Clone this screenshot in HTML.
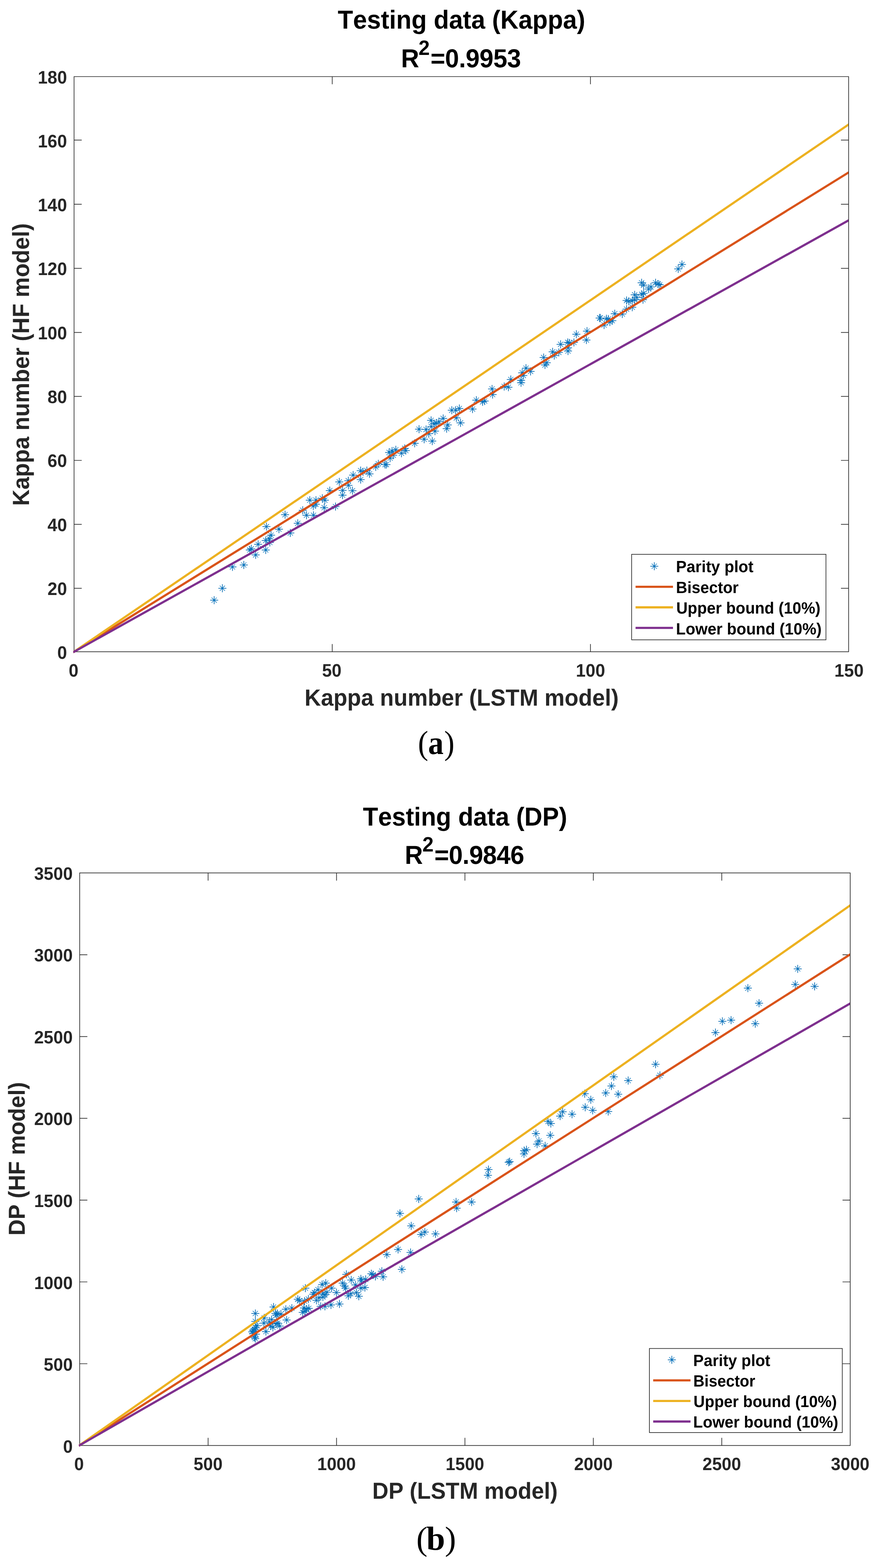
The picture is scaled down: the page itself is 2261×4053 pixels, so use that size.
<!DOCTYPE html>
<html lang="en">
<head>
<meta charset="utf-8">
<title>Parity plots: Testing data (Kappa) and Testing data (DP)</title>
<style>
html,body{margin:0;padding:0;background:#fff}
body{width:2261px;height:4053px;overflow:hidden}
svg{display:block}
text{font-family:"Liberation Sans",Arial,Helvetica,sans-serif;font-weight:bold;font-kerning:none;text-rendering:geometricPrecision}
.tk{fill:#262626}
.lb{fill:#262626}
.tt{fill:#000}
.lt{fill:#000}
.cp{font-family:"Liberation Serif","DejaVu Serif",serif;font-weight:normal;fill:#000}
.cp .cb{font-weight:bold}
.mk{fill:none;stroke:#0A6CB2}
.md{fill:none;stroke:#0072BD;stroke-opacity:.9}
.mc{fill:none;stroke:#0072BD;stroke-linecap:round}
.ax{fill:none;stroke:#262626;stroke-linejoin:miter}
.tc{fill:none;stroke:#262626;stroke-linecap:butt}
.dl line{stroke-linecap:square}
.lg{fill:#fff;stroke:#262626}
line{stroke-linecap:butt}
</style>
</head>
<body>
<svg width="2261" height="4053" viewBox="0 0 2261 4053">
<rect width="2261" height="4053" fill="#fff"/>
<g id="panel-a">
<path class="mk" stroke-width="1.75" d="M543 1551.3h20.8M553.4 1540.9v20.8M564.2 1520.5h20.8M574.6 1510.1v20.8M590.3 1465.4h20.8M600.7 1455v20.8M619.6 1460.4h20.8M630 1450v20.8M650.2 1434.4h20.8M660.6 1424v20.8M635.1 1421.6h20.8M645.5 1411.2v20.8M639.1 1418.5h20.8M649.5 1408.1v20.8M656.6 1406.9h20.8M667 1396.5v20.8M676.2 1421.5h20.8M686.6 1411.1v20.8M676.2 1397h20.8M686.6 1386.6v20.8M690 1383.4h20.8M700.4 1373v20.8M685.1 1392.5h20.8M695.5 1382.1v20.8M686.9 1402.2h20.8M697.3 1391.8v20.8M678.1 1361.2h20.8M688.5 1350.8v20.8M710.4 1367.8h20.8M720.8 1357.4v20.8M739.7 1377.7h20.8M750.1 1367.3v20.8M726.2 1330.4h20.8M736.6 1320v20.8M759 1352.7h20.8M769.4 1342.3v20.8M771.9 1319h20.8M782.3 1308.6v20.8M781.6 1331.8h20.8M792 1321.4v20.8M799.7 1331.8h20.8M810.1 1321.4v20.8M790.1 1292.8h20.8M800.5 1282.4v20.8M806.1 1292.8h20.8M816.5 1282.4v20.8M799.1 1308.1h20.8M809.5 1297.7v20.8M805.8 1303.3h20.8M816.2 1292.9v20.8M822.4 1288h20.8M832.8 1277.6v20.8M829 1292.8h20.8M839.4 1282.4v20.8M827.3 1312.3h20.8M837.7 1301.9v20.8M856.6 1309.4h20.8M867 1299v20.8M841.8 1268.1h20.8M852.2 1257.7v20.8M866.3 1245.7h20.8M876.7 1235.3v20.8M874.9 1267.7h20.8M885.3 1257.3v20.8M874.7 1279.9h20.8M885.1 1269.5v20.8M900.4 1268.4h20.8M910.8 1258v20.8M889.6 1242.6h20.8M900 1232.2v20.8M890 1254.5h20.8M900.4 1244.1v20.8M902.1 1228h20.8M912.5 1217.6v20.8M921.6 1216.5h20.8M932 1206.1v20.8M927.8 1219.7h20.8M938.2 1209.3v20.8M921.6 1239.6h20.8M932 1229.2v20.8M937.6 1216.3h20.8M948 1205.9v20.8M944.4 1224.8h20.8M954.8 1214.4v20.8M960.5 1206.8h20.8M970.9 1196.4v20.8M967.2 1198.8h20.8M977.6 1188.4v20.8M984.6 1200.8h20.8M995 1190.4v20.8M988.1 1200.8h20.8M998.5 1190.4v20.8M997.8 1184.1h20.8M1008.2 1173.7v20.8M1005.5 1176.5h20.8M1015.9 1166.1v20.8M995 1169.5h20.8M1005.4 1159.1v20.8M1002.7 1166h20.8M1013.1 1155.6v20.8M1012.4 1162.6h20.8M1022.8 1152.2v20.8M1027 1171.6h20.8M1037.4 1161.2v20.8M1038.2 1164.6h20.8M1048.6 1154.2v20.8M1035.4 1159.1h20.8M1045.8 1148.7v20.8M1061.1 1145.8h20.8M1071.5 1135.4v20.8M1085.6 1135.3h20.8M1096 1124.9v20.8M1106.5 1140.2h20.8M1116.9 1129.8v20.8M1072.4 1109.4h20.8M1082.8 1099v20.8M1090.6 1110.2h20.8M1101 1099.8v20.8M1097.6 1121h20.8M1108 1110.6v20.8M1113.6 1114.4h20.8M1124 1104v20.8M1103.5 1086.6h20.8M1113.9 1076.2v20.8M1104.1 1102.5h20.8M1114.5 1092.1v20.8M1111.1 1095.5h20.8M1121.5 1085.1v20.8M1116.7 1094.1h20.8M1127.1 1083.7v20.8M1123.6 1090h20.8M1134 1079.6v20.8M1134.8 1081.6h20.8M1145.2 1071.2v20.8M1146.6 1098.3h20.8M1157 1087.9v20.8M1143.8 1108h20.8M1154.2 1097.6v20.8M1157 1060.4h20.8M1167.4 1050v20.8M1166.8 1060.4h20.8M1177.2 1050v20.8M1176.5 1055.9h20.8M1186.9 1045.5v20.8M1168.9 1080.2h20.8M1179.3 1069.8v20.8M1179.6 1093h20.8M1190 1082.6v20.8M1210.6 1057.3h20.8M1221 1046.9v20.8M1220.4 1034.4h20.8M1230.8 1024v20.8M1236.7 1038.7h20.8M1247.1 1028.3v20.8M1241.9 1036.6h20.8M1252.3 1026.2v20.8M1261.1 1005.3h20.8M1271.5 994.9v20.8M1262.5 1019.9h20.8M1272.9 1009.5v20.8M1292.4 999h20.8M1302.8 988.6v20.8M1303.3 1000.8h20.8M1313.7 990.4v20.8M1309.5 980.9h20.8M1319.9 970.5v20.8M1336 983h20.8M1346.4 972.6v20.8M1336 989.3h20.8M1346.4 978.9v20.8M1339 963.5h20.8M1349.4 953.1v20.8M1341.8 970.5h20.8M1352.2 960.1v20.8M1348.8 951.7h20.8M1359.2 941.3v20.8M1360.6 960h20.8M1371 949.6v20.8M1394.4 924.1h20.8M1404.8 913.7v20.8M1397.9 943.4h20.8M1408.3 933v20.8M1402.5 937.5h20.8M1412.9 927.1v20.8M1417.6 909.4h20.8M1428 899v20.8M1421.8 919.2h20.8M1432.2 908.8v20.8M1433.6 910.8h20.8M1444 900.4v20.8M1438.2 890h20.8M1448.6 879.6v20.8M1457.3 907.3h20.8M1467.7 896.9v20.8M1457.3 899h20.8M1467.7 888.6v20.8M1456.6 885.1h20.8M1467 874.7v20.8M1460.8 886.5h20.8M1471.2 876.1v20.8M1472.6 885.1h20.8M1483 874.7v20.8M1478.9 863.9h20.8M1489.3 853.5v20.8M1506.4 855.9h20.8M1516.8 845.5v20.8M1504.9 878.8h20.8M1515.3 868.4v20.8M1539.1 822h20.8M1549.5 811.6v20.8M1540.6 822h20.8M1551 811.6v20.8M1550.5 840h20.8M1560.9 829.6v20.8M1556.5 824h20.8M1566.9 813.6v20.8M1561.4 824.7h20.8M1571.8 814.3v20.8M1565.5 832.4h20.8M1575.9 822v20.8M1571.8 828.9h20.8M1582.2 818.5v20.8M1578.1 810.8h20.8M1588.5 800.4v20.8M1597.5 811.5h20.8M1607.9 801.1v20.8M1608.7 799h20.8M1619.1 788.6v20.8M1623.3 794.1h20.8M1633.7 783.7v20.8M1608.7 776.7h20.8M1619.1 766.3v20.8M1614.2 778.8h20.8M1624.6 768.4v20.8M1623.3 777.4h20.8M1633.7 767v20.8M1629.6 774.6h20.8M1640 764.2v20.8M1629.6 762.1h20.8M1640 751.7v20.8M1635.1 769.1h20.8M1645.5 758.7v20.8M1651.1 774.6h20.8M1661.5 764.2v20.8M1648 760.8h20.8M1658.4 750.4v20.8M1652.9 758h20.8M1663.3 747.6v20.8M1665.7 747.2h20.8M1676.1 736.8v20.8M1671.7 741.6h20.8M1682.1 731.2v20.8M1647.6 730.9h20.8M1658 720.5v20.8M1652.6 737.2h20.8M1663 726.8v20.8M1683.7 730.9h20.8M1694.1 720.5v20.8M1690.4 734.4h20.8M1700.8 724v20.8M1694.3 736.1h20.8M1704.7 725.7v20.8M1742.1 695.2h20.8M1752.5 684.8v20.8M1751.8 683.7h20.8M1762.2 673.3v20.8"/>
<path class="md" stroke-width="1.49" d="M546.7 1544.6l13.3 13.3M546.7 1558l13.3 -13.3M567.9 1513.8l13.3 13.3M567.9 1527.2l13.3 -13.3M594 1458.7l13.3 13.3M594 1472.1l13.3 -13.3M623.3 1453.7l13.3 13.3M623.3 1467.1l13.3 -13.3M653.9 1427.7l13.3 13.3M653.9 1441.1l13.3 -13.3M638.8 1414.9l13.3 13.3M638.8 1428.3l13.3 -13.3M642.8 1411.8l13.3 13.3M642.8 1425.2l13.3 -13.3M660.3 1400.2l13.3 13.3M660.3 1413.6l13.3 -13.3M679.9 1414.8l13.3 13.3M679.9 1428.2l13.3 -13.3M679.9 1390.3l13.3 13.3M679.9 1403.7l13.3 -13.3M693.7 1376.7l13.3 13.3M693.7 1390.1l13.3 -13.3M688.8 1385.8l13.3 13.3M688.8 1399.2l13.3 -13.3M690.6 1395.5l13.3 13.3M690.6 1408.9l13.3 -13.3M681.8 1354.5l13.3 13.3M681.8 1367.9l13.3 -13.3M714.1 1361.1l13.3 13.3M714.1 1374.5l13.3 -13.3M743.4 1371l13.3 13.3M743.4 1384.4l13.3 -13.3M729.9 1323.7l13.3 13.3M729.9 1337.1l13.3 -13.3M762.7 1346l13.3 13.3M762.7 1359.4l13.3 -13.3M775.6 1312.3l13.3 13.3M775.6 1325.7l13.3 -13.3M785.3 1325.1l13.3 13.3M785.3 1338.5l13.3 -13.3M803.4 1325.1l13.3 13.3M803.4 1338.5l13.3 -13.3M793.8 1286.1l13.3 13.3M793.8 1299.5l13.3 -13.3M809.8 1286.1l13.3 13.3M809.8 1299.5l13.3 -13.3M802.8 1301.4l13.3 13.3M802.8 1314.8l13.3 -13.3M809.5 1296.6l13.3 13.3M809.5 1310l13.3 -13.3M826.1 1281.3l13.3 13.3M826.1 1294.7l13.3 -13.3M832.7 1286.1l13.3 13.3M832.7 1299.5l13.3 -13.3M831 1305.6l13.3 13.3M831 1319l13.3 -13.3M860.3 1302.7l13.3 13.3M860.3 1316.1l13.3 -13.3M845.5 1261.4l13.3 13.3M845.5 1274.8l13.3 -13.3M870 1239l13.3 13.3M870 1252.4l13.3 -13.3M878.6 1261l13.3 13.3M878.6 1274.4l13.3 -13.3M878.4 1273.2l13.3 13.3M878.4 1286.6l13.3 -13.3M904.1 1261.7l13.3 13.3M904.1 1275.1l13.3 -13.3M893.3 1235.9l13.3 13.3M893.3 1249.3l13.3 -13.3M893.7 1247.8l13.3 13.3M893.7 1261.2l13.3 -13.3M905.8 1221.3l13.3 13.3M905.8 1234.7l13.3 -13.3M925.3 1209.8l13.3 13.3M925.3 1223.2l13.3 -13.3M931.5 1213l13.3 13.3M931.5 1226.4l13.3 -13.3M925.3 1232.9l13.3 13.3M925.3 1246.3l13.3 -13.3M941.3 1209.6l13.3 13.3M941.3 1223l13.3 -13.3M948.1 1218.1l13.3 13.3M948.1 1231.5l13.3 -13.3M964.2 1200.1l13.3 13.3M964.2 1213.5l13.3 -13.3M970.9 1192.1l13.3 13.3M970.9 1205.5l13.3 -13.3M988.3 1194.1l13.3 13.3M988.3 1207.5l13.3 -13.3M991.8 1194.1l13.3 13.3M991.8 1207.5l13.3 -13.3M1001.5 1177.4l13.3 13.3M1001.5 1190.8l13.3 -13.3M1009.2 1169.8l13.3 13.3M1009.2 1183.2l13.3 -13.3M998.7 1162.8l13.3 13.3M998.7 1176.2l13.3 -13.3M1006.4 1159.3l13.3 13.3M1006.4 1172.7l13.3 -13.3M1016.1 1155.9l13.3 13.3M1016.1 1169.3l13.3 -13.3M1030.7 1164.9l13.3 13.3M1030.7 1178.3l13.3 -13.3M1041.9 1157.9l13.3 13.3M1041.9 1171.3l13.3 -13.3M1039.1 1152.4l13.3 13.3M1039.1 1165.8l13.3 -13.3M1064.8 1139.1l13.3 13.3M1064.8 1152.5l13.3 -13.3M1089.3 1128.6l13.3 13.3M1089.3 1142l13.3 -13.3M1110.2 1133.5l13.3 13.3M1110.2 1146.9l13.3 -13.3M1076.1 1102.7l13.3 13.3M1076.1 1116.1l13.3 -13.3M1094.3 1103.5l13.3 13.3M1094.3 1116.9l13.3 -13.3M1101.3 1114.3l13.3 13.3M1101.3 1127.7l13.3 -13.3M1117.3 1107.7l13.3 13.3M1117.3 1121.1l13.3 -13.3M1107.2 1079.9l13.3 13.3M1107.2 1093.3l13.3 -13.3M1107.8 1095.8l13.3 13.3M1107.8 1109.2l13.3 -13.3M1114.8 1088.8l13.3 13.3M1114.8 1102.2l13.3 -13.3M1120.4 1087.4l13.3 13.3M1120.4 1100.8l13.3 -13.3M1127.3 1083.3l13.3 13.3M1127.3 1096.7l13.3 -13.3M1138.5 1074.9l13.3 13.3M1138.5 1088.3l13.3 -13.3M1150.3 1091.6l13.3 13.3M1150.3 1105l13.3 -13.3M1147.5 1101.3l13.3 13.3M1147.5 1114.7l13.3 -13.3M1160.7 1053.7l13.3 13.3M1160.7 1067.1l13.3 -13.3M1170.5 1053.7l13.3 13.3M1170.5 1067.1l13.3 -13.3M1180.2 1049.2l13.3 13.3M1180.2 1062.6l13.3 -13.3M1172.6 1073.5l13.3 13.3M1172.6 1086.9l13.3 -13.3M1183.3 1086.3l13.3 13.3M1183.3 1099.7l13.3 -13.3M1214.3 1050.6l13.3 13.3M1214.3 1064l13.3 -13.3M1224.1 1027.7l13.3 13.3M1224.1 1041.1l13.3 -13.3M1240.4 1032l13.3 13.3M1240.4 1045.4l13.3 -13.3M1245.6 1029.9l13.3 13.3M1245.6 1043.3l13.3 -13.3M1264.8 998.6l13.3 13.3M1264.8 1012l13.3 -13.3M1266.2 1013.2l13.3 13.3M1266.2 1026.6l13.3 -13.3M1296.1 992.3l13.3 13.3M1296.1 1005.7l13.3 -13.3M1307 994.1l13.3 13.3M1307 1007.5l13.3 -13.3M1313.2 974.2l13.3 13.3M1313.2 987.6l13.3 -13.3M1339.7 976.3l13.3 13.3M1339.7 989.7l13.3 -13.3M1339.7 982.6l13.3 13.3M1339.7 996l13.3 -13.3M1342.7 956.8l13.3 13.3M1342.7 970.2l13.3 -13.3M1345.5 963.8l13.3 13.3M1345.5 977.2l13.3 -13.3M1352.5 945l13.3 13.3M1352.5 958.4l13.3 -13.3M1364.3 953.3l13.3 13.3M1364.3 966.7l13.3 -13.3M1398.1 917.4l13.3 13.3M1398.1 930.8l13.3 -13.3M1401.6 936.7l13.3 13.3M1401.6 950.1l13.3 -13.3M1406.2 930.8l13.3 13.3M1406.2 944.2l13.3 -13.3M1421.3 902.7l13.3 13.3M1421.3 916.1l13.3 -13.3M1425.5 912.5l13.3 13.3M1425.5 925.9l13.3 -13.3M1437.3 904.1l13.3 13.3M1437.3 917.5l13.3 -13.3M1441.9 883.3l13.3 13.3M1441.9 896.7l13.3 -13.3M1461 900.6l13.3 13.3M1461 914l13.3 -13.3M1461 892.3l13.3 13.3M1461 905.7l13.3 -13.3M1460.3 878.4l13.3 13.3M1460.3 891.8l13.3 -13.3M1464.5 879.8l13.3 13.3M1464.5 893.2l13.3 -13.3M1476.3 878.4l13.3 13.3M1476.3 891.8l13.3 -13.3M1482.6 857.2l13.3 13.3M1482.6 870.6l13.3 -13.3M1510.1 849.2l13.3 13.3M1510.1 862.6l13.3 -13.3M1508.6 872.1l13.3 13.3M1508.6 885.5l13.3 -13.3M1542.8 815.3l13.3 13.3M1542.8 828.7l13.3 -13.3M1544.3 815.3l13.3 13.3M1544.3 828.7l13.3 -13.3M1554.2 833.3l13.3 13.3M1554.2 846.7l13.3 -13.3M1560.2 817.3l13.3 13.3M1560.2 830.7l13.3 -13.3M1565.1 818l13.3 13.3M1565.1 831.4l13.3 -13.3M1569.2 825.7l13.3 13.3M1569.2 839.1l13.3 -13.3M1575.5 822.2l13.3 13.3M1575.5 835.6l13.3 -13.3M1581.8 804.1l13.3 13.3M1581.8 817.5l13.3 -13.3M1601.2 804.8l13.3 13.3M1601.2 818.2l13.3 -13.3M1612.4 792.3l13.3 13.3M1612.4 805.7l13.3 -13.3M1627 787.4l13.3 13.3M1627 800.8l13.3 -13.3M1612.4 770l13.3 13.3M1612.4 783.4l13.3 -13.3M1617.9 772.1l13.3 13.3M1617.9 785.5l13.3 -13.3M1627 770.7l13.3 13.3M1627 784.1l13.3 -13.3M1633.3 767.9l13.3 13.3M1633.3 781.3l13.3 -13.3M1633.3 755.4l13.3 13.3M1633.3 768.8l13.3 -13.3M1638.8 762.4l13.3 13.3M1638.8 775.8l13.3 -13.3M1654.8 767.9l13.3 13.3M1654.8 781.3l13.3 -13.3M1651.7 754.1l13.3 13.3M1651.7 767.5l13.3 -13.3M1656.6 751.3l13.3 13.3M1656.6 764.7l13.3 -13.3M1669.4 740.5l13.3 13.3M1669.4 753.9l13.3 -13.3M1675.4 734.9l13.3 13.3M1675.4 748.3l13.3 -13.3M1651.3 724.2l13.3 13.3M1651.3 737.6l13.3 -13.3M1656.3 730.5l13.3 13.3M1656.3 743.9l13.3 -13.3M1687.4 724.2l13.3 13.3M1687.4 737.6l13.3 -13.3M1694.1 727.7l13.3 13.3M1694.1 741.1l13.3 -13.3M1698 729.4l13.3 13.3M1698 742.8l13.3 -13.3M1745.8 688.5l13.3 13.3M1745.8 701.9l13.3 -13.3M1755.5 677l13.3 13.3M1755.5 690.4l13.3 -13.3"/>
<path class="mc" stroke-width="4.9" d="M553.4 1551.3h0M574.6 1520.5h0M600.7 1465.4h0M630 1460.4h0M660.6 1434.4h0M645.5 1421.6h0M649.5 1418.5h0M667 1406.9h0M686.6 1421.5h0M686.6 1397h0M700.4 1383.4h0M695.5 1392.5h0M697.3 1402.2h0M688.5 1361.2h0M720.8 1367.8h0M750.1 1377.7h0M736.6 1330.4h0M769.4 1352.7h0M782.3 1319h0M792 1331.8h0M810.1 1331.8h0M800.5 1292.8h0M816.5 1292.8h0M809.5 1308.1h0M816.2 1303.3h0M832.8 1288h0M839.4 1292.8h0M837.7 1312.3h0M867 1309.4h0M852.2 1268.1h0M876.7 1245.7h0M885.3 1267.7h0M885.1 1279.9h0M910.8 1268.4h0M900 1242.6h0M900.4 1254.5h0M912.5 1228h0M932 1216.5h0M938.2 1219.7h0M932 1239.6h0M948 1216.3h0M954.8 1224.8h0M970.9 1206.8h0M977.6 1198.8h0M995 1200.8h0M998.5 1200.8h0M1008.2 1184.1h0M1015.9 1176.5h0M1005.4 1169.5h0M1013.1 1166h0M1022.8 1162.6h0M1037.4 1171.6h0M1048.6 1164.6h0M1045.8 1159.1h0M1071.5 1145.8h0M1096 1135.3h0M1116.9 1140.2h0M1082.8 1109.4h0M1101 1110.2h0M1108 1121h0M1124 1114.4h0M1113.9 1086.6h0M1114.5 1102.5h0M1121.5 1095.5h0M1127.1 1094.1h0M1134 1090h0M1145.2 1081.6h0M1157 1098.3h0M1154.2 1108h0M1167.4 1060.4h0M1177.2 1060.4h0M1186.9 1055.9h0M1179.3 1080.2h0M1190 1093h0M1221 1057.3h0M1230.8 1034.4h0M1247.1 1038.7h0M1252.3 1036.6h0M1271.5 1005.3h0M1272.9 1019.9h0M1302.8 999h0M1313.7 1000.8h0M1319.9 980.9h0M1346.4 983h0M1346.4 989.3h0M1349.4 963.5h0M1352.2 970.5h0M1359.2 951.7h0M1371 960h0M1404.8 924.1h0M1408.3 943.4h0M1412.9 937.5h0M1428 909.4h0M1432.2 919.2h0M1444 910.8h0M1448.6 890h0M1467.7 907.3h0M1467.7 899h0M1467 885.1h0M1471.2 886.5h0M1483 885.1h0M1489.3 863.9h0M1516.8 855.9h0M1515.3 878.8h0M1549.5 822h0M1551 822h0M1560.9 840h0M1566.9 824h0M1571.8 824.7h0M1575.9 832.4h0M1582.2 828.9h0M1588.5 810.8h0M1607.9 811.5h0M1619.1 799h0M1633.7 794.1h0M1619.1 776.7h0M1624.6 778.8h0M1633.7 777.4h0M1640 774.6h0M1640 762.1h0M1645.5 769.1h0M1661.5 774.6h0M1658.4 760.8h0M1663.3 758h0M1676.1 747.2h0M1682.1 741.6h0M1658 730.9h0M1663 737.2h0M1694.1 730.9h0M1700.8 734.4h0M1704.7 736.1h0M1752.5 695.2h0M1762.2 683.7h0"/>
<path class="ax" stroke-width="1.7" d="M191.4 198H2192.8V1684.6H191.4Z"/>
<path class="tc" stroke-width="1.7" d="M858.5 1684.6v-19.8M858.5 198v19.8M1525.7 1684.6v-19.8M1525.7 198v19.8M191.4 1520.6h19.8M2192.8 1520.6h-19.8M191.4 1355.3h19.8M2192.8 1355.3h-19.8M191.4 1190h19.8M2192.8 1190h-19.8M191.4 1024.7h19.8M2192.8 1024.7h-19.8M191.4 859.4h19.8M2192.8 859.4h-19.8M191.4 693.6h19.8M2192.8 693.6h-19.8M191.4 527.9h19.8M2192.8 527.9h-19.8M191.4 362.2h19.8M2192.8 362.2h-19.8"/>
<clipPath id="clip-panel-a"><rect x="189.2" y="198.8" width="2002.8" height="1491.8"/></clipPath>
<g class="dl" clip-path="url(#clip-panel-a)" stroke-width="5.6">
<line x1="191.4" y1="1684.6" x2="2192.8" y2="445.8" stroke="#D95319"/>
<line x1="191.4" y1="1684.6" x2="2192.8" y2="321.9" stroke="#EDB120"/>
<line x1="191.4" y1="1684.6" x2="2192.8" y2="569.6" stroke="#7E2F8E"/>
</g>
<text class="tk" font-size="46.89" transform="translate(177.41 1749) scale(0.966 1)">0</text>
<text class="tk" font-size="46.89" transform="translate(832.14 1749) scale(0.966 1)">50</text>
<text class="tk" font-size="46.89" transform="translate(1488.08 1749) scale(0.966 1)">100</text>
<text class="tk" font-size="46.89" transform="translate(2156.12 1749) scale(0.966 1)">150</text>
<text class="tk" font-size="46.89" transform="translate(148.05 1703.4) scale(0.966 1)">0</text>
<text class="tk" font-size="46.89" transform="translate(122.86 1538.08) scale(0.966 1)">20</text>
<text class="tk" font-size="46.89" transform="translate(122.86 1372.76) scale(0.966 1)">40</text>
<text class="tk" font-size="46.89" transform="translate(122.86 1207.43) scale(0.966 1)">60</text>
<text class="tk" font-size="46.89" transform="translate(122.86 1042.11) scale(0.966 1)">80</text>
<text class="tk" font-size="46.89" transform="translate(97.67 876.79) scale(0.966 1)">100</text>
<text class="tk" font-size="46.89" transform="translate(97.67 711.47) scale(0.966 1)">120</text>
<text class="tk" font-size="46.89" transform="translate(97.67 546.14) scale(0.966 1)">140</text>
<text class="tk" font-size="46.89" transform="translate(97.67 380.82) scale(0.966 1)">160</text>
<text class="tk" font-size="46.89" transform="translate(97.67 215.5) scale(0.966 1)">180</text>
<text class="lb" font-size="60.5" transform="translate(786.95 1823.6) scale(0.966 1)">Kappa number (LSTM model)</text>
<text class="lb" font-size="60.5" transform="translate(74.7 1307.45) rotate(-90) scale(0.9658 1)">Kappa number (HF model)</text>
<text class="tt" font-size="67.27" transform="translate(872.7 74) scale(0.9617 1)">Testing data (Kappa)</text>
<text class="tt" font-size="67.27" transform="translate(0 174.2) scale(0.966 1)"><tspan x="1072.61">R</tspan><tspan x="1119.65" dy="-32.4" font-size="53.82">2</tspan><tspan x="1151.73" dy="32.4" letter-spacing="-0.478">=0.9953</tspan></text>
<rect class="lg" x="1632.2" y="1432.8" width="502.1" height="221" stroke-width="1.7"/>
<path class="mk" stroke-width="1.75" d="M1680.3 1463.6h20.8M1690.7 1453.2v20.8"/>
<path class="md" stroke-width="1.49" d="M1684 1456.9l13.3 13.3M1684 1470.3l13.3 -13.3"/>
<path class="mc" stroke-width="4.9" d="M1690.7 1463.6h0"/>
<line x1="1642.3" y1="1516.8" x2="1739" y2="1516.8" stroke="#D95319" stroke-width="5.6"/>
<line x1="1642.3" y1="1569.9" x2="1739" y2="1569.9" stroke="#EDB120" stroke-width="5.6"/>
<line x1="1642.3" y1="1623" x2="1739" y2="1623" stroke="#7E2F8E" stroke-width="5.6"/>
<text class="lt" font-size="42.23" transform="translate(1746.84 1479.2) scale(0.9689 1)">Parity plot</text>
<text class="lt" font-size="42.23" transform="translate(1746.87 1532.8) scale(0.9569 1)">Bisector</text>
<text class="lt" font-size="42.23" transform="translate(1747.49 1586.4) scale(0.9628 1)">Upper bound (10%)</text>
<text class="lt" font-size="42.23" transform="translate(1746.85 1640) scale(0.9663 1)">Lower bound (10%)</text>
<text class="cp" font-size="86.5" transform="translate(0 1948.6) scale(0.9249 1)"><tspan x="1167.64">(</tspan><tspan class="cb" x="1196.08">a</tspan><tspan x="1240.9">)</tspan></text>
</g>
<g id="panel-b">
<path class="mk" stroke-width="1.75" d="M649.4 3395.1h20.8M659.8 3384.7v20.8M649.4 3415.5h20.8M659.8 3405.1v20.8M653.8 3426.8h20.8M664.2 3416.4v20.8M650.5 3431.8h20.8M660.9 3421.4v20.8M647.2 3436h20.8M657.6 3425.6v20.8M643.8 3439.3h20.8M654.2 3428.9v20.8M641.3 3442.7h20.8M651.7 3432.3v20.8M643.4 3446.8h20.8M653.8 3436.4v20.8M647.2 3456.8h20.8M657.6 3446.4v20.8M649.2 3460.2h20.8M659.6 3449.8v20.8M650.9 3448.5h20.8M661.3 3438.1v20.8M671.4 3420.1h20.8M681.8 3409.7v20.8M672.2 3406.7h20.8M682.6 3396.3v20.8M676.8 3441.8h20.8M687.2 3431.4v20.8M694.8 3431h20.8M705.2 3420.6v20.8M688.9 3427.6h20.8M699.3 3417.2v20.8M703.1 3421.8h20.8M713.5 3411.4v20.8M707.3 3420.1h20.8M717.7 3409.7v20.8M712.3 3427.6h20.8M722.7 3417.2v20.8M685.6 3416.8h20.8M696 3406.4v20.8M691.4 3410.9h20.8M701.8 3400.5v20.8M696.4 3378.4h20.8M706.8 3368v20.8M701.4 3395.1h20.8M711.8 3384.7v20.8M703.9 3399.2h20.8M714.3 3388.8v20.8M706.4 3395.1h20.8M716.8 3384.7v20.8M715.6 3396.7h20.8M726 3386.3v20.8M728.2 3384.2h20.8M738.6 3373.8v20.8M730.2 3411.8h20.8M740.6 3401.4v20.8M743.8 3381.3h20.8M754.2 3370.9v20.8M759.1 3358.4h20.8M769.5 3348v20.8M763.4 3362h20.8M773.8 3351.6v20.8M778.6 3329.7h20.8M789 3319.3v20.8M776.5 3363.1h20.8M786.9 3352.7v20.8M786.4 3357.8h20.8M796.8 3347.4v20.8M774.9 3380.8h20.8M785.3 3370.4v20.8M771.8 3392.3h20.8M782.2 3381.9v20.8M782.2 3384h20.8M792.6 3373.6v20.8M787.5 3381.9h20.8M797.9 3371.5v20.8M778.1 3389.2h20.8M788.5 3378.8v20.8M802.1 3341.1h20.8M812.5 3330.7v20.8M798.9 3345.3h20.8M809.3 3334.9v20.8M811.5 3333.8h20.8M821.9 3323.4v20.8M821.9 3320.3h20.8M832.3 3309.9v20.8M831.3 3316.6h20.8M841.7 3306.2v20.8M807.3 3361h20.8M817.7 3350.6v20.8M813.6 3354.7h20.8M824 3344.3v20.8M824 3352.6h20.8M834.4 3342.2v20.8M829.2 3346.9h20.8M839.6 3336.5v20.8M834.4 3340.1h20.8M844.8 3329.7v20.8M824 3344.3h20.8M834.4 3333.9v20.8M846.4 3329.7h20.8M856.8 3319.3v20.8M859 3341.1h20.8M869.4 3330.7v20.8M818.2 3376.6h20.8M828.6 3366.2v20.8M829.2 3376.6h20.8M839.6 3366.2v20.8M844.9 3373h20.8M855.3 3362.6v20.8M866.8 3370.5h20.8M877.2 3360.1v20.8M874.9 3316.6h20.8M885.3 3306.2v20.8M884.5 3293.9h20.8M894.9 3283.5v20.8M882.4 3329.6h20.8M892.8 3319.2v20.8M880.3 3324.4h20.8M890.7 3314v20.8M897.2 3308.5h20.8M907.6 3298.1v20.8M889.7 3349.4h20.8M900.1 3339v20.8M896 3344.2h20.8M906.4 3333.8v20.8M908 3321.3h20.8M918.4 3310.9v20.8M910.6 3341.1h20.8M921 3330.7v20.8M916.8 3350.5h20.8M927.2 3340.1v20.8M922.1 3305.6h20.8M932.5 3295.2v20.8M923.1 3310.8h20.8M933.5 3300.4v20.8M922.1 3329.6h20.8M932.5 3319.2v20.8M932.5 3328h20.8M942.9 3317.6v20.8M934.6 3307h20.8M945 3296.6v20.8M949.2 3292.3h20.8M959.6 3281.9v20.8M953.4 3295.2h20.8M963.8 3284.8v20.8M959.6 3299.3h20.8M970 3288.9v20.8M976.3 3285.8h20.8M986.7 3275.4v20.8M979.5 3300.4h20.8M989.9 3290v20.8M989.1 3242.8h20.8M999.5 3232.4v20.8M1018.2 3229.5h20.8M1028.6 3219.1v20.8M1050.5 3237.4h20.8M1060.9 3227v20.8M1028 3281h20.8M1038.4 3270.6v20.8M1023.1 3136.3h20.8M1033.5 3125.9v20.8M1052.2 3168.6h20.8M1062.6 3158.2v20.8M1077.6 3190.8h20.8M1088 3180.4v20.8M1087.4 3184.6h20.8M1097.8 3174.2v20.8M1114.9 3189.4h20.8M1125.3 3179v20.8M1071.6 3099h20.8M1082 3088.6v20.8M1168.1 3107h20.8M1178.5 3096.6v20.8M1169.6 3122.8h20.8M1180 3112.4v20.8M1208.3 3107h20.8M1218.7 3096.6v20.8M1251.8 3023.2h20.8M1262.2 3012.8v20.8M1250.4 3037.8h20.8M1260.8 3027.4v20.8M1304 3004.4h20.8M1314.4 2994v20.8M1306.6 3002.6h20.8M1317 2992.2v20.8M1343.6 2982.7h20.8M1354 2972.3v20.8M1344 2974h20.8M1354.4 2963.6v20.8M1350 2971.9h20.8M1360.4 2961.5v20.8M1374.4 2930h20.8M1384.8 2919.6v20.8M1377.4 2957.4h20.8M1387.8 2947v20.8M1382.2 2949.3h20.8M1392.6 2938.9v20.8M1398.2 2961.8h20.8M1408.6 2951.4v20.8M1411.5 2934.5h20.8M1421.9 2924.1v20.8M1405.7 2898.6h20.8M1416.1 2888.2v20.8M1413 2904h20.8M1423.4 2893.6v20.8M1437 2884.9h20.8M1447.4 2874.5v20.8M1443.6 2873.6h20.8M1454 2863.2v20.8M1467.8 2880h20.8M1478.2 2869.6v20.8M1500.5 2827h20.8M1510.9 2816.6v20.8M1516.2 2842.6h20.8M1526.6 2832.2v20.8M1501.8 2862.1h20.8M1512.2 2851.7v20.8M1521.1 2870.1h20.8M1531.5 2859.7v20.8M1554.8 2825.2h20.8M1565.2 2814.8v20.8M1561.2 2873.1h20.8M1571.6 2862.7v20.8M1569.6 2807.2h20.8M1580 2796.8v20.8M1575.7 2783.4h20.8M1586.1 2773v20.8M1587 2828.3h20.8M1597.4 2817.9v20.8M1612.8 2793h20.8M1623.2 2782.6v20.8M1683.6 2750.9h20.8M1694 2740.5v20.8M1694.9 2779.6h20.8M1705.3 2769.2v20.8M1838.3 2669h20.8M1848.7 2658.6v20.8M1856.2 2639.8h20.8M1866.6 2629.4v20.8M1878.7 2636.8h20.8M1889.1 2626.4v20.8M1922.1 2554.2h20.8M1932.5 2543.8v20.8M1951 2593.2h20.8M1961.4 2582.8v20.8M1941.2 2646h20.8M1951.6 2635.6v20.8M2050.9 2504.3h20.8M2061.3 2493.9v20.8M2044.5 2544.5h20.8M2054.9 2534.1v20.8M2094.6 2549.6h20.8M2105 2539.2v20.8"/>
<path class="md" stroke-width="1.49" d="M653.1 3388.4l13.3 13.3M653.1 3401.8l13.3 -13.3M653.1 3408.8l13.3 13.3M653.1 3422.2l13.3 -13.3M657.5 3420.1l13.3 13.3M657.5 3433.5l13.3 -13.3M654.2 3425.1l13.3 13.3M654.2 3438.5l13.3 -13.3M650.9 3429.3l13.3 13.3M650.9 3442.7l13.3 -13.3M647.5 3432.6l13.3 13.3M647.5 3446l13.3 -13.3M645 3436l13.3 13.3M645 3449.4l13.3 -13.3M647.1 3440.1l13.3 13.3M647.1 3453.5l13.3 -13.3M650.9 3450.1l13.3 13.3M650.9 3463.5l13.3 -13.3M652.9 3453.5l13.3 13.3M652.9 3466.9l13.3 -13.3M654.6 3441.8l13.3 13.3M654.6 3455.2l13.3 -13.3M675.1 3413.4l13.3 13.3M675.1 3426.8l13.3 -13.3M675.9 3400l13.3 13.3M675.9 3413.4l13.3 -13.3M680.5 3435.1l13.3 13.3M680.5 3448.5l13.3 -13.3M698.5 3424.3l13.3 13.3M698.5 3437.7l13.3 -13.3M692.6 3420.9l13.3 13.3M692.6 3434.3l13.3 -13.3M706.8 3415.1l13.3 13.3M706.8 3428.5l13.3 -13.3M711 3413.4l13.3 13.3M711 3426.8l13.3 -13.3M716 3420.9l13.3 13.3M716 3434.3l13.3 -13.3M689.3 3410.1l13.3 13.3M689.3 3423.5l13.3 -13.3M695.1 3404.2l13.3 13.3M695.1 3417.6l13.3 -13.3M700.1 3371.7l13.3 13.3M700.1 3385.1l13.3 -13.3M705.1 3388.4l13.3 13.3M705.1 3401.8l13.3 -13.3M707.6 3392.5l13.3 13.3M707.6 3405.9l13.3 -13.3M710.1 3388.4l13.3 13.3M710.1 3401.8l13.3 -13.3M719.3 3390l13.3 13.3M719.3 3403.4l13.3 -13.3M731.9 3377.5l13.3 13.3M731.9 3390.9l13.3 -13.3M733.9 3405.1l13.3 13.3M733.9 3418.5l13.3 -13.3M747.5 3374.6l13.3 13.3M747.5 3388l13.3 -13.3M762.8 3351.7l13.3 13.3M762.8 3365.1l13.3 -13.3M767.1 3355.3l13.3 13.3M767.1 3368.7l13.3 -13.3M782.3 3323l13.3 13.3M782.3 3336.4l13.3 -13.3M780.2 3356.4l13.3 13.3M780.2 3369.8l13.3 -13.3M790.1 3351.1l13.3 13.3M790.1 3364.5l13.3 -13.3M778.6 3374.1l13.3 13.3M778.6 3387.5l13.3 -13.3M775.5 3385.6l13.3 13.3M775.5 3399l13.3 -13.3M785.9 3377.3l13.3 13.3M785.9 3390.7l13.3 -13.3M791.2 3375.2l13.3 13.3M791.2 3388.6l13.3 -13.3M781.8 3382.5l13.3 13.3M781.8 3395.9l13.3 -13.3M805.8 3334.4l13.3 13.3M805.8 3347.8l13.3 -13.3M802.6 3338.6l13.3 13.3M802.6 3352l13.3 -13.3M815.2 3327.1l13.3 13.3M815.2 3340.5l13.3 -13.3M825.6 3313.6l13.3 13.3M825.6 3327l13.3 -13.3M835 3309.9l13.3 13.3M835 3323.3l13.3 -13.3M811 3354.3l13.3 13.3M811 3367.7l13.3 -13.3M817.3 3348l13.3 13.3M817.3 3361.4l13.3 -13.3M827.7 3345.9l13.3 13.3M827.7 3359.3l13.3 -13.3M832.9 3340.2l13.3 13.3M832.9 3353.6l13.3 -13.3M838.1 3333.4l13.3 13.3M838.1 3346.8l13.3 -13.3M827.7 3337.6l13.3 13.3M827.7 3351l13.3 -13.3M850.1 3323l13.3 13.3M850.1 3336.4l13.3 -13.3M862.7 3334.4l13.3 13.3M862.7 3347.8l13.3 -13.3M821.9 3369.9l13.3 13.3M821.9 3383.3l13.3 -13.3M832.9 3369.9l13.3 13.3M832.9 3383.3l13.3 -13.3M848.6 3366.3l13.3 13.3M848.6 3379.7l13.3 -13.3M870.5 3363.8l13.3 13.3M870.5 3377.2l13.3 -13.3M878.6 3309.9l13.3 13.3M878.6 3323.3l13.3 -13.3M888.2 3287.2l13.3 13.3M888.2 3300.6l13.3 -13.3M886.1 3322.9l13.3 13.3M886.1 3336.3l13.3 -13.3M884 3317.7l13.3 13.3M884 3331.1l13.3 -13.3M900.9 3301.8l13.3 13.3M900.9 3315.2l13.3 -13.3M893.4 3342.7l13.3 13.3M893.4 3356.1l13.3 -13.3M899.7 3337.5l13.3 13.3M899.7 3350.9l13.3 -13.3M911.7 3314.6l13.3 13.3M911.7 3328l13.3 -13.3M914.3 3334.4l13.3 13.3M914.3 3347.8l13.3 -13.3M920.5 3343.8l13.3 13.3M920.5 3357.2l13.3 -13.3M925.8 3298.9l13.3 13.3M925.8 3312.3l13.3 -13.3M926.8 3304.1l13.3 13.3M926.8 3317.5l13.3 -13.3M925.8 3322.9l13.3 13.3M925.8 3336.3l13.3 -13.3M936.2 3321.3l13.3 13.3M936.2 3334.7l13.3 -13.3M938.3 3300.3l13.3 13.3M938.3 3313.7l13.3 -13.3M952.9 3285.6l13.3 13.3M952.9 3299l13.3 -13.3M957.1 3288.5l13.3 13.3M957.1 3301.9l13.3 -13.3M963.3 3292.6l13.3 13.3M963.3 3306l13.3 -13.3M980 3279.1l13.3 13.3M980 3292.5l13.3 -13.3M983.2 3293.7l13.3 13.3M983.2 3307.1l13.3 -13.3M992.8 3236.1l13.3 13.3M992.8 3249.5l13.3 -13.3M1021.9 3222.8l13.3 13.3M1021.9 3236.2l13.3 -13.3M1054.2 3230.7l13.3 13.3M1054.2 3244.1l13.3 -13.3M1031.7 3274.3l13.3 13.3M1031.7 3287.7l13.3 -13.3M1026.8 3129.6l13.3 13.3M1026.8 3143l13.3 -13.3M1055.9 3161.9l13.3 13.3M1055.9 3175.3l13.3 -13.3M1081.3 3184.1l13.3 13.3M1081.3 3197.5l13.3 -13.3M1091.1 3177.9l13.3 13.3M1091.1 3191.3l13.3 -13.3M1118.6 3182.7l13.3 13.3M1118.6 3196.1l13.3 -13.3M1075.3 3092.3l13.3 13.3M1075.3 3105.7l13.3 -13.3M1171.8 3100.3l13.3 13.3M1171.8 3113.7l13.3 -13.3M1173.3 3116.1l13.3 13.3M1173.3 3129.5l13.3 -13.3M1212 3100.3l13.3 13.3M1212 3113.7l13.3 -13.3M1255.5 3016.5l13.3 13.3M1255.5 3029.9l13.3 -13.3M1254.1 3031.1l13.3 13.3M1254.1 3044.5l13.3 -13.3M1307.7 2997.7l13.3 13.3M1307.7 3011.1l13.3 -13.3M1310.3 2995.9l13.3 13.3M1310.3 3009.3l13.3 -13.3M1347.3 2976l13.3 13.3M1347.3 2989.4l13.3 -13.3M1347.7 2967.3l13.3 13.3M1347.7 2980.7l13.3 -13.3M1353.7 2965.2l13.3 13.3M1353.7 2978.6l13.3 -13.3M1378.1 2923.3l13.3 13.3M1378.1 2936.7l13.3 -13.3M1381.1 2950.7l13.3 13.3M1381.1 2964.1l13.3 -13.3M1385.9 2942.6l13.3 13.3M1385.9 2956l13.3 -13.3M1401.9 2955.1l13.3 13.3M1401.9 2968.5l13.3 -13.3M1415.2 2927.8l13.3 13.3M1415.2 2941.2l13.3 -13.3M1409.4 2891.9l13.3 13.3M1409.4 2905.3l13.3 -13.3M1416.7 2897.3l13.3 13.3M1416.7 2910.7l13.3 -13.3M1440.7 2878.2l13.3 13.3M1440.7 2891.6l13.3 -13.3M1447.3 2866.9l13.3 13.3M1447.3 2880.3l13.3 -13.3M1471.5 2873.3l13.3 13.3M1471.5 2886.7l13.3 -13.3M1504.2 2820.3l13.3 13.3M1504.2 2833.7l13.3 -13.3M1519.9 2835.9l13.3 13.3M1519.9 2849.3l13.3 -13.3M1505.5 2855.4l13.3 13.3M1505.5 2868.8l13.3 -13.3M1524.8 2863.4l13.3 13.3M1524.8 2876.8l13.3 -13.3M1558.5 2818.5l13.3 13.3M1558.5 2831.9l13.3 -13.3M1564.9 2866.4l13.3 13.3M1564.9 2879.8l13.3 -13.3M1573.3 2800.5l13.3 13.3M1573.3 2813.9l13.3 -13.3M1579.4 2776.7l13.3 13.3M1579.4 2790.1l13.3 -13.3M1590.7 2821.6l13.3 13.3M1590.7 2835l13.3 -13.3M1616.5 2786.3l13.3 13.3M1616.5 2799.7l13.3 -13.3M1687.3 2744.2l13.3 13.3M1687.3 2757.6l13.3 -13.3M1698.6 2772.9l13.3 13.3M1698.6 2786.3l13.3 -13.3M1842 2662.3l13.3 13.3M1842 2675.7l13.3 -13.3M1859.9 2633.1l13.3 13.3M1859.9 2646.5l13.3 -13.3M1882.4 2630.1l13.3 13.3M1882.4 2643.5l13.3 -13.3M1925.8 2547.5l13.3 13.3M1925.8 2560.9l13.3 -13.3M1954.7 2586.5l13.3 13.3M1954.7 2599.9l13.3 -13.3M1944.9 2639.3l13.3 13.3M1944.9 2652.7l13.3 -13.3M2054.6 2497.6l13.3 13.3M2054.6 2511l13.3 -13.3M2048.2 2537.8l13.3 13.3M2048.2 2551.2l13.3 -13.3M2098.3 2542.9l13.3 13.3M2098.3 2556.3l13.3 -13.3"/>
<path class="mc" stroke-width="4.9" d="M659.8 3395.1h0M659.8 3415.5h0M664.2 3426.8h0M660.9 3431.8h0M657.6 3436h0M654.2 3439.3h0M651.7 3442.7h0M653.8 3446.8h0M657.6 3456.8h0M659.6 3460.2h0M661.3 3448.5h0M681.8 3420.1h0M682.6 3406.7h0M687.2 3441.8h0M705.2 3431h0M699.3 3427.6h0M713.5 3421.8h0M717.7 3420.1h0M722.7 3427.6h0M696 3416.8h0M701.8 3410.9h0M706.8 3378.4h0M711.8 3395.1h0M714.3 3399.2h0M716.8 3395.1h0M726 3396.7h0M738.6 3384.2h0M740.6 3411.8h0M754.2 3381.3h0M769.5 3358.4h0M773.8 3362h0M789 3329.7h0M786.9 3363.1h0M796.8 3357.8h0M785.3 3380.8h0M782.2 3392.3h0M792.6 3384h0M797.9 3381.9h0M788.5 3389.2h0M812.5 3341.1h0M809.3 3345.3h0M821.9 3333.8h0M832.3 3320.3h0M841.7 3316.6h0M817.7 3361h0M824 3354.7h0M834.4 3352.6h0M839.6 3346.9h0M844.8 3340.1h0M834.4 3344.3h0M856.8 3329.7h0M869.4 3341.1h0M828.6 3376.6h0M839.6 3376.6h0M855.3 3373h0M877.2 3370.5h0M885.3 3316.6h0M894.9 3293.9h0M892.8 3329.6h0M890.7 3324.4h0M907.6 3308.5h0M900.1 3349.4h0M906.4 3344.2h0M918.4 3321.3h0M921 3341.1h0M927.2 3350.5h0M932.5 3305.6h0M933.5 3310.8h0M932.5 3329.6h0M942.9 3328h0M945 3307h0M959.6 3292.3h0M963.8 3295.2h0M970 3299.3h0M986.7 3285.8h0M989.9 3300.4h0M999.5 3242.8h0M1028.6 3229.5h0M1060.9 3237.4h0M1038.4 3281h0M1033.5 3136.3h0M1062.6 3168.6h0M1088 3190.8h0M1097.8 3184.6h0M1125.3 3189.4h0M1082 3099h0M1178.5 3107h0M1180 3122.8h0M1218.7 3107h0M1262.2 3023.2h0M1260.8 3037.8h0M1314.4 3004.4h0M1317 3002.6h0M1354 2982.7h0M1354.4 2974h0M1360.4 2971.9h0M1384.8 2930h0M1387.8 2957.4h0M1392.6 2949.3h0M1408.6 2961.8h0M1421.9 2934.5h0M1416.1 2898.6h0M1423.4 2904h0M1447.4 2884.9h0M1454 2873.6h0M1478.2 2880h0M1510.9 2827h0M1526.6 2842.6h0M1512.2 2862.1h0M1531.5 2870.1h0M1565.2 2825.2h0M1571.6 2873.1h0M1580 2807.2h0M1586.1 2783.4h0M1597.4 2828.3h0M1623.2 2793h0M1694 2750.9h0M1705.3 2779.6h0M1848.7 2669h0M1866.6 2639.8h0M1889.1 2636.8h0M1932.5 2554.2h0M1961.4 2593.2h0M1951.6 2646h0M2061.3 2504.3h0M2054.9 2544.5h0M2105 2549.6h0"/>
<path class="ax" stroke-width="1.7" d="M205.9 2256.4H2196.9V3736.4H205.9Z"/>
<path class="tc" stroke-width="1.7" d="M537.7 3736.4v-19.8M537.7 2256.4v19.8M869.6 3736.4v-19.8M869.6 2256.4v19.8M1201.4 3736.4v-19.8M1201.4 2256.4v19.8M1533.2 3736.4v-19.8M1533.2 2256.4v19.8M1865.1 3736.4v-19.8M1865.1 2256.4v19.8M205.9 3525h19.8M2196.9 3525h-19.8M205.9 3313.5h19.8M2196.9 3313.5h-19.8M205.9 3102.1h19.8M2196.9 3102.1h-19.8M205.9 2890.7h19.8M2196.9 2890.7h-19.8M205.9 2679.3h19.8M2196.9 2679.3h-19.8M205.9 2467.8h19.8M2196.9 2467.8h-19.8"/>
<clipPath id="clip-panel-b"><rect x="203.7" y="2257.2" width="1992.4" height="1485.2"/></clipPath>
<g class="dl" clip-path="url(#clip-panel-b)" stroke-width="5.6">
<line x1="205.9" y1="3735.6" x2="2196.9" y2="2467" stroke="#D95319"/>
<line x1="205.9" y1="3735.6" x2="2196.9" y2="2340.2" stroke="#EDB120"/>
<line x1="205.9" y1="3735.6" x2="2196.9" y2="2593.9" stroke="#7E2F8E"/>
</g>
<text class="tk" font-size="46.37" transform="translate(191.64 3799.8) scale(0.966 1)">0</text>
<text class="tk" font-size="46.37" transform="translate(500.37 3799.8) scale(0.966 1)">500</text>
<text class="tk" font-size="46.37" transform="translate(819.74 3799.8) scale(0.966 1)">1000</text>
<text class="tk" font-size="46.37" transform="translate(1151.58 3799.8) scale(0.966 1)">1500</text>
<text class="tk" font-size="46.37" transform="translate(1483.41 3799.8) scale(0.966 1)">2000</text>
<text class="tk" font-size="46.37" transform="translate(1815.24 3799.8) scale(0.966 1)">2500</text>
<text class="tk" font-size="46.37" transform="translate(2147.08 3799.8) scale(0.966 1)">3000</text>
<text class="tk" font-size="46.37" transform="translate(162.9 3754.9) scale(0.966 1)">0</text>
<text class="tk" font-size="46.37" transform="translate(113.08 3543.29) scale(0.966 1)">500</text>
<text class="tk" font-size="46.37" transform="translate(88.17 3331.67) scale(0.966 1)">1000</text>
<text class="tk" font-size="46.37" transform="translate(88.17 3120.06) scale(0.966 1)">1500</text>
<text class="tk" font-size="46.37" transform="translate(88.17 2908.44) scale(0.966 1)">2000</text>
<text class="tk" font-size="46.37" transform="translate(88.17 2696.83) scale(0.966 1)">2500</text>
<text class="tk" font-size="46.37" transform="translate(88.17 2485.21) scale(0.966 1)">3000</text>
<text class="tk" font-size="46.37" transform="translate(88.17 2273.6) scale(0.966 1)">3500</text>
<text class="lb" font-size="59.82" transform="translate(962.08 3874) scale(0.9676 1)">DP (LSTM model)</text>
<text class="lb" font-size="59.82" transform="translate(64.4 3193.4) rotate(-90) scale(0.9626 1)">DP (HF model)</text>
<text class="tt" font-size="67.07" transform="translate(937.8 2133.5) scale(0.9573 1)">Testing data (DP)</text>
<text class="tt" font-size="67.07" transform="translate(0 2233.3) scale(0.966 1)"><tspan x="1082.87">R</tspan><tspan x="1130" dy="-32.7" font-size="53.82">2</tspan><tspan x="1161.98" dy="32.7" letter-spacing="-0.648">=0.9846</tspan></text>
<rect class="lg" x="1678.1" y="3485.6" width="498.4" height="217.3" stroke-width="1.7"/>
<path class="mk" stroke-width="1.75" d="M1725.6 3514.8h20.8M1736 3504.4v20.8"/>
<path class="md" stroke-width="1.49" d="M1729.3 3508.1l13.3 13.3M1729.3 3521.5l13.3 -13.3"/>
<path class="mc" stroke-width="4.9" d="M1736 3514.8h0"/>
<line x1="1687.8" y1="3568" x2="1784.3" y2="3568" stroke="#D95319" stroke-width="5.6"/>
<line x1="1687.8" y1="3621.2" x2="1784.3" y2="3621.2" stroke="#EDB120" stroke-width="5.6"/>
<line x1="1687.8" y1="3674.4" x2="1784.3" y2="3674.4" stroke="#7E2F8E" stroke-width="5.6"/>
<text class="lt" font-size="42.02" transform="translate(1791.36 3531.2) scale(0.9687 1)">Parity plot</text>
<text class="lt" font-size="42.02" transform="translate(1791.4 3584) scale(0.9532 1)">Bisector</text>
<text class="lt" font-size="42.02" transform="translate(1792.01 3636.8) scale(0.9618 1)">Upper bound (10%)</text>
<text class="lt" font-size="42.02" transform="translate(1791.36 3689.6) scale(0.9672 1)">Lower bound (10%)</text>
<text class="cp" font-size="86.5" transform="translate(0 4006.1) scale(1.0044 1)"><tspan x="1071.12">(</tspan><tspan class="cb" x="1097.02">b</tspan><tspan x="1144.51">)</tspan></text>
</g>
</svg>
</body>
</html>
